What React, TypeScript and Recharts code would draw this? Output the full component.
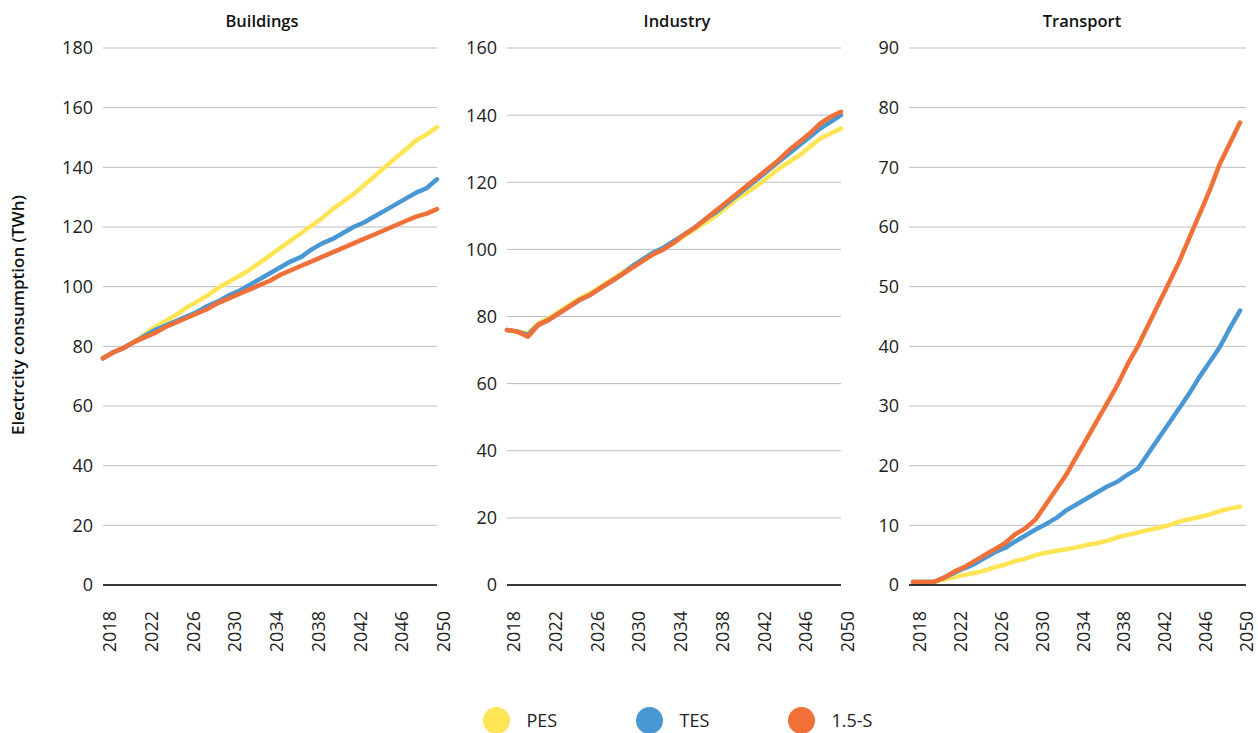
import { LineChart, Line, XAxis, YAxis, CartesianGrid } from 'recharts';

const years = [
  2018, 2019, 2020, 2021, 2022, 2023, 2024, 2025, 2026, 2027, 2028,
  2029, 2030, 2031, 2032, 2033, 2034, 2035, 2036, 2037, 2038, 2039,
  2040, 2041, 2042, 2043, 2044, 2045, 2046, 2047, 2048, 2049, 2050
];
const yearTicks = [2018, 2022, 2026, 2030, 2034, 2038, 2042, 2046, 2050];

// Buildings (TWh)
const buildingsPES = [76, 78, 79.5, 81.5, 84, 86.5, 88.5, 90.5, 93, 95, 97, 99.5, 101.5, 103.5, 105.5, 108, 110.5, 113, 115.5, 118, 120.5, 123, 126, 128.5, 131, 134, 137, 140, 143, 146, 149, 151, 153.5];
const buildingsTES = [76, 78, 79.5, 81.5, 83.5, 85.5, 87, 88.5, 90, 91.5, 93.5, 95, 97, 98.5, 100.5, 102.5, 104.5, 106.5, 108.5, 110, 112.5, 114.5, 116, 118, 120, 121.5, 123.5, 125.5, 127.5, 129.5, 131.5, 133, 136];
const buildings15S = [76, 78, 79.5, 81.5, 83, 84.5, 86.5, 88, 89.5, 91, 92.5, 94.5, 96, 97.5, 99, 100.5, 102, 104, 105.5, 107, 108.5, 110, 111.5, 113, 114.5, 116, 117.5, 119, 120.5, 122, 123.5, 124.5, 126];

// Industry (TWh)
const industryPES = [76, 75.5, 75, 78, 79.5, 81.5, 83.5, 85.5, 87, 89, 91, 93, 95, 97, 99, 100.5, 102, 104, 106, 108, 110, 112.5, 115, 117, 119, 121.5, 124, 126, 128, 130.5, 133, 134.5, 136];
const industryTES = [76, 75.5, 74.5, 77.5, 79, 81, 83, 85, 86.5, 88.5, 90.5, 92.5, 95, 97, 99, 100.5, 102.5, 104.5, 106.5, 109, 111, 113.5, 116, 118.5, 121, 123.5, 126, 128.5, 131, 133.5, 136, 138, 140];
const industry15S = [76, 75.5, 74, 77.5, 79, 81, 83, 85, 86.5, 88.5, 90.5, 92.5, 94.5, 96.5, 98.5, 100, 102, 104.5, 106.5, 109, 111.5, 114, 116.5, 119, 121.5, 124, 126.5, 129.5, 132, 134.5, 137.5, 139.5, 141];

// Transport (TWh)
const transportPES = [0.5, 0.5, 0.5, 0.9, 1.3, 1.7, 2, 2.4, 3, 3.4, 4, 4.4, 5, 5.4, 5.7, 6, 6.3, 6.7, 7, 7.4, 8, 8.4, 8.8, 9.2, 9.6, 10, 10.6, 11, 11.4, 11.8, 12.4, 12.8, 13.1];
const transportTES = [0.5, 0.5, 0.5, 1.2, 2, 2.8, 3.5, 4.5, 5.5, 6.2, 7.3, 8.3, 9.3, 10.2, 11.2, 12.5, 13.5, 14.5, 15.5, 16.5, 17.3, 18.5, 19.5, 22, 24.5, 27, 29.5, 32, 34.8, 37.3, 39.8, 43, 46];
const transport15S = [0.5, 0.5, 0.5, 1.2, 2.2, 3, 4, 5, 6, 7, 8.5, 9.5, 11, 13.5, 16, 18.5, 21.5, 24.5, 27.5, 30.5, 33.5, 37, 40, 43.5, 47, 50.5, 54, 58, 62, 66, 70.5, 74, 77.5];

const buildingsTicks = [0, 20, 40, 60, 80, 100, 120, 140, 160, 180];
const industryTicks = [0, 20, 40, 60, 80, 100, 120, 140, 160];
const transportTicks = [0, 10, 20, 30, 40, 50, 60, 70, 80, 90];

const seriesNames = ['PES', 'TES', '1.5-S'];
const COLORS: Record<string, string> = {
  'PES': '#FFE455',
  'TES': '#4A98D3',
  '1.5-S': '#F07038'
};

const FONT = '"Open Sans", sans-serif';

function toRows(pes: number[], tes: number[], s15: number[]) {
  return years.map((year, i) => ({ year, 'PES': pes[i], 'TES': tes[i], '1.5-S': s15[i] }));
}

const YearTick = ({ x, y, payload }: any) => {
  const tx = x + 13;
  const ty = y + 26;
  return (
    <text
      x={tx}
      y={ty}
      transform={`rotate(-90, ${tx}, ${ty})`}
      textAnchor="end"
      fontSize={18}
      fill="#222"
      fontFamily={FONT}
    >
      {payload.value}
    </text>
  );
};

interface PanelProps {
  left: number;
  width: number;
  data: any[];
  yTicks: number[];
  yWidth: number;
  marginLeft: number;
  marginRight: number;
  padLeft?: number;
  padRight?: number;
}

function Panel({ left, width, data, yTicks, yWidth, marginLeft, marginRight, padLeft = 0, padRight = 0 }: PanelProps) {
  return (
    <div style={{ position: 'absolute', left, top: 0 }}>
      <LineChart
        width={width}
        height={733}
        data={data}
        margin={{ top: 48, right: marginRight, left: marginLeft, bottom: 48 }}
      >
        <CartesianGrid vertical={false} stroke="#bdbdbd" strokeWidth={1} />
        <XAxis
          dataKey="year"
          type="number"
          domain={[2018, 2050]}
          ticks={yearTicks}
          interval={0}
          height={100}
          tickSize={0}
          tickMargin={0}
          tick={<YearTick />}
          axisLine={{ stroke: '#000', strokeWidth: 1.5 }}
          padding={{ left: padLeft, right: padRight }}
        />
        <YAxis
          width={yWidth}
          domain={[0, yTicks[yTicks.length - 1]]}
          ticks={yTicks}
          interval={0}
          tickLine={false}
          axisLine={false}
          tickSize={0}
          tickMargin={10}
          tick={{ fontSize: 18, fill: '#222', fontFamily: FONT }}
        />
        {seriesNames.map(name => (
          <Line
            key={name}
            type="linear"
            dataKey={name}
            stroke={COLORS[name]}
            strokeWidth={4.5}
            strokeLinecap="round"
            strokeLinejoin="round"
            dot={false}
            isAnimationActive={false}
          />
        ))}
      </LineChart>
    </div>
  );
}

const titleStyle = (cx: number): React.CSSProperties => ({
  position: 'absolute',
  left: cx - 100,
  width: 200,
  top: 9,
  textAlign: 'center',
  fontFamily: FONT,
  fontWeight: 600,
  fontSize: 16.5,
  color: '#111'
});

export default function App() {
  return (
    <div style={{ position: 'absolute', left: 0, top: 0, width: 1258, height: 733, background: '#fff', overflow: 'hidden' }}>
      <Panel left={0} width={462} data={toRows(buildingsPES, buildingsTES, buildings15S)} yTicks={buildingsTicks} yWidth={60} marginLeft={43} marginRight={25} />
      <Panel left={450} width={412} data={toRows(industryPES, industryTES, industry15S)} yTicks={industryTicks} yWidth={50} marginLeft={7} marginRight={21} />
      <Panel left={850} width={408} data={toRows(transportPES, transportTES, transport15S)} yTicks={transportTicks} yWidth={50} marginLeft={9} marginRight={12} padLeft={4} padRight={6} />

      <div style={titleStyle(262)}>Buildings</div>
      <div style={titleStyle(677)}>Industry</div>
      <div style={titleStyle(1082)}>Transport</div>

      <div
        style={{
          position: 'absolute',
          left: 18 - 150,
          top: 315 - 12,
          width: 300,
          height: 24,
          lineHeight: '24px',
          textAlign: 'center',
          transform: 'rotate(-90deg)',
          fontFamily: FONT,
          fontWeight: 600,
          fontSize: 17,
          color: '#111'
        }}
      >
        Electrcity consumption (TWh)
      </div>

      {seriesNames.map((name, i) => {
        const cx = [496, 649, 801][i];
        return (
          <div key={name} style={{ position: 'absolute', left: cx - 13.5, top: 720 - 13.5, display: 'flex', alignItems: 'center' }}>
            <div style={{ width: 27, height: 27, borderRadius: '50%', background: COLORS[name] }} />
            <span style={{ marginLeft: 17, fontFamily: FONT, fontSize: 18, color: '#222' }}>{name}</span>
          </div>
        );
      })}
    </div>
  );
}
